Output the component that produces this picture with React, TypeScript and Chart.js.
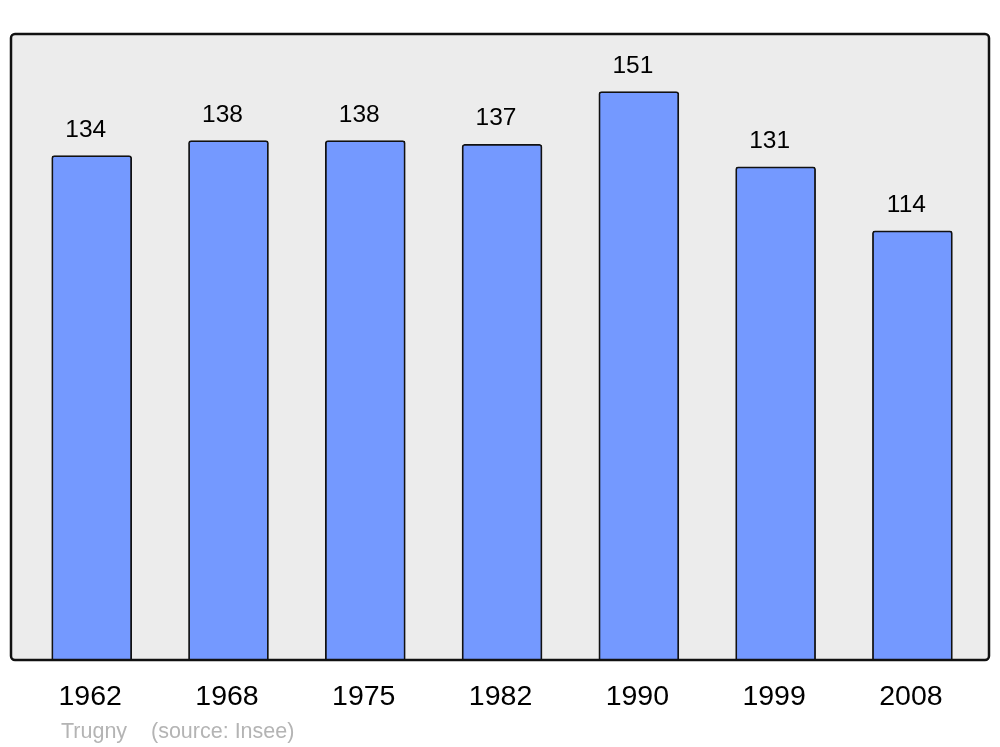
import React, { useEffect, useRef } from "react";
import { Chart, registerables } from "chart.js";

Chart.register(...registerables);

const years = ["1962", "1968", "1975", "1982", "1990", "1999", "2008"];
const population = [134, 138, 138, 137, 151, 131, 114];
const footerName = "Trugny";
const footerSource = "(source: Insee)";

const FONT = "'Liberation Sans', Arial, sans-serif";

const framePlugin = {
  id: "frame",
  beforeDatasetsDraw(chart: any) {
    const { ctx, chartArea } = chart;
    const { left, top, right, bottom } = chartArea;
    ctx.save();
    ctx.beginPath();
    ctx.roundRect(left, top, right - left, bottom - top, 4);
    ctx.fillStyle = "#ececec";
    ctx.fill();
    ctx.restore();
  },
  afterDatasetsDraw(chart: any) {
    const { ctx, chartArea } = chart;
    const { left, top, right, bottom } = chartArea;
    ctx.save();
    ctx.beginPath();
    ctx.roundRect(left, top, right - left, bottom - top, 4);
    ctx.lineWidth = 2.5;
    ctx.strokeStyle = "#111";
    ctx.stroke();

    const meta = chart.getDatasetMeta(0);
    ctx.fillStyle = "#000";
    ctx.textAlign = "center";
    ctx.textBaseline = "alphabetic";
    ctx.font = `24.5px ${FONT}`;
    meta.data.forEach((bar: any, i: number) => {
      ctx.fillText(String(population[i]), bar.x - 6, bar.y - 19);
    });

    const xs = chart.scales.x;
    ctx.font = `28.5px ${FONT}`;
    years.forEach((y, i) => {
      ctx.fillText(y, xs.getPixelForValue(i) - 1.5, bottom + 44.5);
    });

    ctx.fillStyle = "#b4b4b4";
    ctx.textAlign = "left";
    ctx.font = `21.5px ${FONT}`;
    ctx.fillText(footerName, 61, bottom + 78);
    ctx.fillText(footerSource, 151, bottom + 78);
    ctx.restore();
  },
};

export default function App() {
  const ref = useRef<HTMLCanvasElement>(null);
  useEffect(() => {
    if (!ref.current) return;
    const chart = new Chart(ref.current, {
      type: "bar",
      data: {
        datasets: [
          {
            data: population.map((v, i) => ({ x: i, y: v })),
            backgroundColor: "#7499ff",
            borderColor: "#111",
            borderWidth: 1.8,
            borderRadius: { topLeft: 3, topRight: 3, bottomLeft: 0, bottomRight: 0 },
            borderSkipped: "bottom",
            barThickness: 80,
          },
        ],
      },
      options: {
        animation: false,
        responsive: false,
        devicePixelRatio: 1,
        layout: { padding: { left: 11, right: 11, top: 34, bottom: 87 } },
        plugins: { legend: { display: false }, tooltip: { enabled: false } },
        scales: {
          x: { type: "linear", min: -0.59, max: 6.56, offset: false, display: false },
          y: { min: 0, max: 166.3, display: false },
        },
      },
      plugins: [framePlugin],
    });
    return () => chart.destroy();
  }, []);
  return (
    <div style={{ position: "absolute", left: 0, top: 0, width: 1000, height: 747, background: "#fff" }}>
      <canvas ref={ref} width={1000} height={747} />
    </div>
  );
}
